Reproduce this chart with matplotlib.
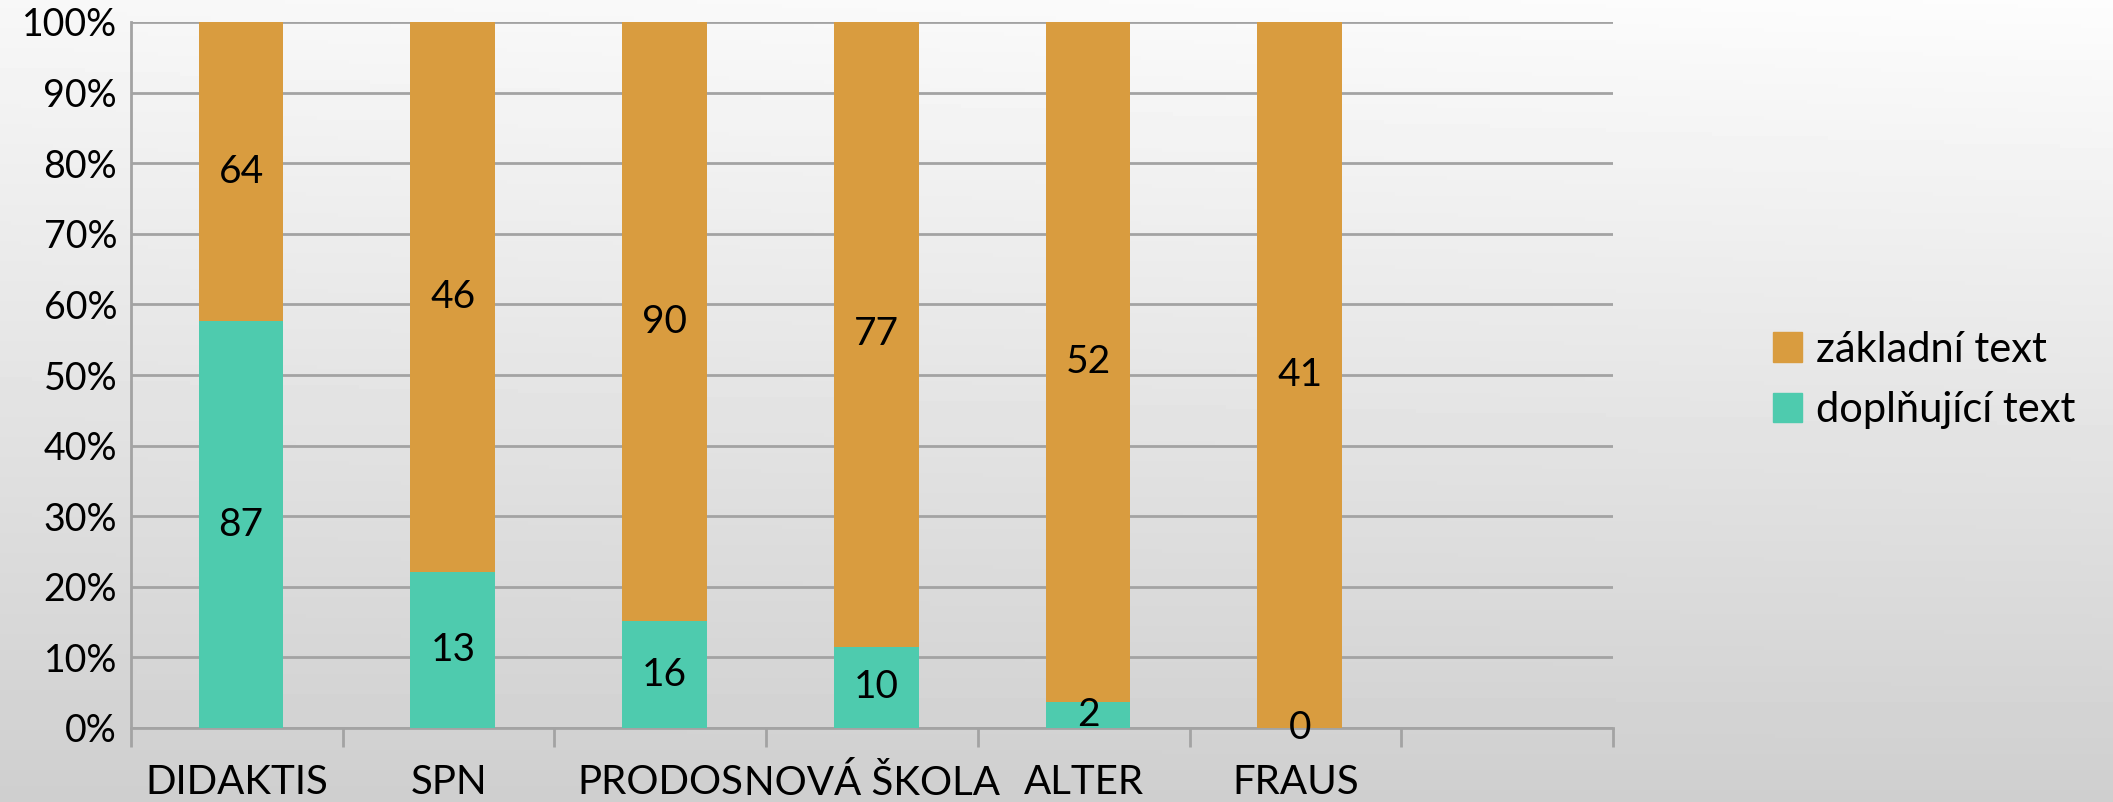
import numpy as np
import matplotlib
matplotlib.use("Agg")
import matplotlib.pyplot as plt
from matplotlib.patches import Patch

plt.rcParams['font.family'] = ['Lato', 'DejaVu Sans']

# data
publishers = ["DIDAKTIS", "SPN", "PRODOS", "NOVÁ ŠKOLA", "ALTER", "FRAUS", ""]
dopl_text = [87, 13, 16, 10, 2, 0, 0]
zakl_text = [64, 46, 90, 77, 52, 41, 0]
series_names = ["základní text", "doplňující text"]

teal = "#4ECBAE"
orange = "#D99C3F"
grid_col = "#a3a3a3"

fig = plt.figure(figsize=(21.13, 8.02), dpi=100)

# background gradient (light top, grey bottom)
bg = fig.add_axes([0, 0, 1, 1], zorder=-10)
ny, nx = 200, 200
yy, xx = np.mgrid[0:1:ny * 1j, 0:1:nx * 1j]
shade = 0.97 - 0.16 * yy + 0.02 * xx * (1 - yy)
bg.imshow(shade, cmap="gray", vmin=0, vmax=1, aspect="auto",
          extent=[0, 1, 1, 0])
bg.set_axis_off()

ax = fig.add_axes([131 / 2113, 1 - 728 / 802, (1613 - 131) / 2113, (728 - 22) / 802])
ax.patch.set_alpha(0)

dopl = np.array(dopl_text, dtype=float)
zakl = np.array(zakl_text, dtype=float)
tot = dopl + zakl
tot_safe = np.where(tot == 0, 1, tot)
p_dopl = np.where(tot == 0, 0, dopl / tot_safe * 100)
p_zakl = np.where(tot == 0, 0, zakl / tot_safe * 100)

x = np.arange(len(publishers))
n_real = int(np.sum(tot > 0))
w = 0.4
ax.bar(x[:n_real] + 0.02, p_dopl[:n_real], width=w, color=teal, zorder=3)
ax.bar(x[:n_real] + 0.02, p_zakl[:n_real], width=w, bottom=p_dopl[:n_real], color=orange, zorder=3)

# data labels in the middle of each segment
for i in range(n_real):
    ax.text(x[i] + 0.02, p_dopl[i] / 2, str(dopl_text[i]), ha="center", va="center",
            fontsize=28, zorder=5, color="black")
    ax.text(x[i] + 0.02, p_dopl[i] + p_zakl[i] / 2, str(zakl_text[i]), ha="center", va="center",
            fontsize=28, zorder=5, color="black")

ax.set_xlim(-0.5, len(publishers) - 0.5)
ax.set_ylim(0, 100)
ax.set_yticks(np.arange(0, 101, 10))
ax.set_yticklabels([f"{v}%" for v in range(0, 101, 10)], fontsize=27)
ax.yaxis.grid(True, color=grid_col, linewidth=2, zorder=0)
ax.set_axisbelow(True)

ax.set_xticks(x)
ax.set_xticklabels(publishers, fontsize=29)
ax.set_xticks(np.arange(-0.5, len(publishers)), minor=True)
ax.tick_params(axis="x", which="major", length=0, pad=26)
ax.tick_params(axis="x", which="minor", length=14, width=2, color=grid_col)
ax.tick_params(axis="y", length=0, pad=10)

for s in ["top", "right"]:
    ax.spines[s].set_visible(False)
ax.spines["left"].set_color(grid_col)
ax.spines["left"].set_linewidth(2)
ax.spines["bottom"].set_color(grid_col)
ax.spines["bottom"].set_linewidth(2)

handles = [Patch(color=orange), Patch(color=teal)]
fig.legend(handles, series_names, loc="center left",
           bbox_to_anchor=(1735 / 2113, 1 - 380 / 802), frameon=False,
           fontsize=30, handlelength=0.7, handleheight=0.7, handletextpad=0.35,
           labelspacing=0.55)

fig.savefig("out.png", dpi=100)
